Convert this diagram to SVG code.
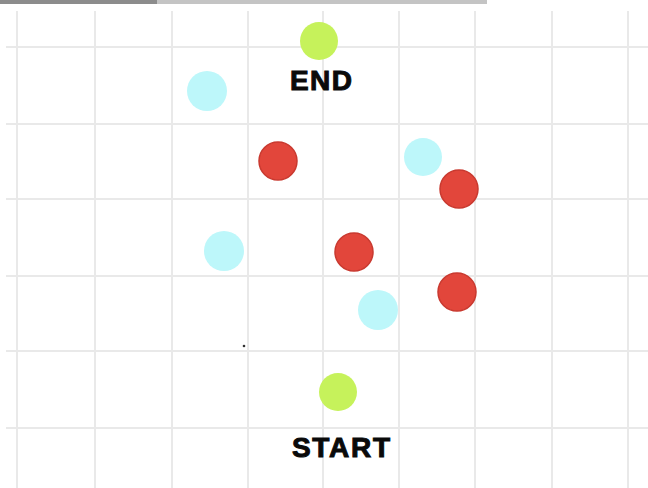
<svg xmlns="http://www.w3.org/2000/svg" width="648" height="488" viewBox="0 0 648 488">
<style>
.grid line{stroke:#e9e9e9;stroke-width:2}
.red{fill:#e2463b;stroke:#c9392f;stroke-width:1.5}
.cyan{fill:#bdf7fa}
.green{fill:#c6f25b}
.lbl{font-family:"Liberation Sans",Arial,sans-serif;font-weight:bold;font-size:28px;fill:#0a0a0a;stroke:#0a0a0a;stroke-width:1}
</style>
<rect width="648" height="488" fill="#ffffff"/>
<rect x="0" y="0" width="157" height="4" fill="#8c8c8c"/>
<rect x="157" y="0" width="330" height="4" fill="#c4c4c4"/>
<g class="grid">
<line x1="17" y1="11" x2="17" y2="488"/>
<line x1="95" y1="11" x2="95" y2="488"/>
<line x1="172" y1="11" x2="172" y2="488"/>
<line x1="248" y1="11" x2="248" y2="488"/>
<line x1="323" y1="11" x2="323" y2="488"/>
<line x1="399" y1="11" x2="399" y2="488"/>
<line x1="475" y1="11" x2="475" y2="488"/>
<line x1="552" y1="11" x2="552" y2="488"/>
<line x1="628" y1="11" x2="628" y2="488"/>
<line x1="6" y1="47" x2="648" y2="47"/>
<line x1="6" y1="124" x2="648" y2="124"/>
<line x1="6" y1="199" x2="648" y2="199"/>
<line x1="6" y1="276" x2="648" y2="276"/>
<line x1="6" y1="351" x2="648" y2="351"/>
<line x1="6" y1="428" x2="648" y2="428"/>
</g>
<g id="connectors"></g>
<g id="end"><circle class="green" cx="319" cy="41" r="19"/><text class="lbl" x="321" y="90" text-anchor="middle" textLength="62">END</text></g>
<g id="start"><circle class="green" cx="338" cy="392" r="19"/><text class="lbl" x="341" y="457" text-anchor="middle" textLength="98">START</text></g>
<g id="c1"><circle class="cyan" cx="207" cy="91" r="20"/></g>
<g id="c2"><circle class="cyan" cx="423" cy="157" r="19"/></g>
<g id="c3"><circle class="cyan" cx="224" cy="251" r="20"/></g>
<g id="c4"><circle class="cyan" cx="378" cy="310" r="20"/></g>
<g id="r1"><circle class="red" cx="278" cy="161" r="19"/></g>
<g id="r2"><circle class="red" cx="459" cy="189" r="19"/></g>
<g id="r3"><circle class="red" cx="354" cy="252" r="19"/></g>
<g id="r4"><circle class="red" cx="457" cy="292" r="19"/></g>
<circle cx="244" cy="346" r="1.3" fill="#333"/>
</svg>
